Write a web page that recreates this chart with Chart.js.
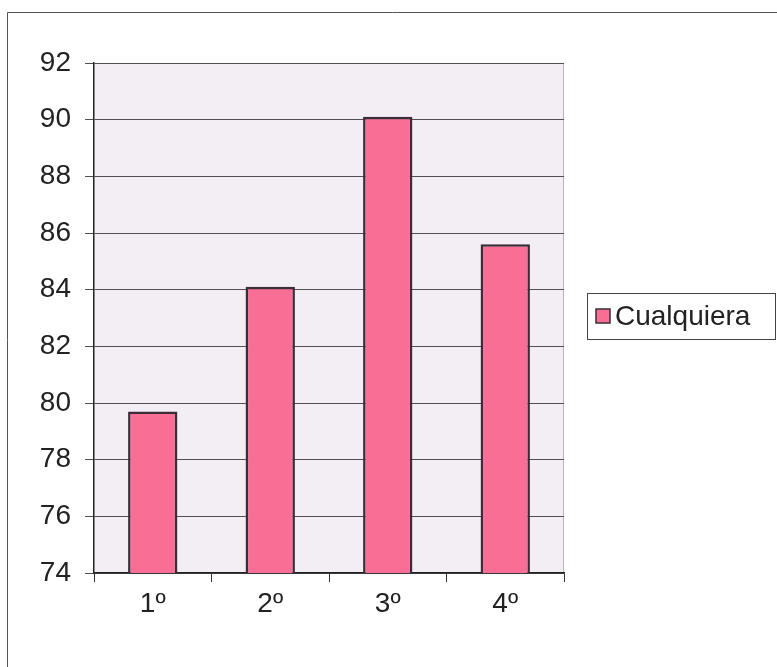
<!DOCTYPE html>
<html>
<head>
<meta charset="utf-8">
<script src="https://cdn.jsdelivr.net/npm/chart.js@4/dist/chart.umd.min.js"></script>
<style>
  html, body { margin: 0; padding: 0; background: #ffffff; }
  #wrap { width: 777px; height: 667px; position: relative; }
</style>
</head>
<body>
<div id="wrap"><canvas id="c" width="777" height="667"></canvas></div>
<script>
// Course levels and their values
const categories = ['1º', '2º', '3º', '4º'];
const seriesName = 'Cualquiera';
const seriesValues = [79.7, 84.1, 90.1, 85.6];
const yTicks = [74, 76, 78, 80, 82, 84, 86, 88, 90, 92];

const FONT = '"Liberation Sans", Arial, sans-serif';
const BAR_FILL = '#F86E95';
const BAR_EDGE = '#3b2c3a';

// Frame, plot background and legend box
const decor = {
  id: 'decor',
  beforeDraw(chart) {
    const { ctx, chartArea: a } = chart;
    ctx.save();
    ctx.fillStyle = '#F2EEF4';
    ctx.fillRect(a.left, a.top, a.right - a.left, a.bottom - a.top);
    // light outline on top and right of the plot
    ctx.strokeStyle = '#b9b4bc';
    ctx.lineWidth = 1;
    ctx.beginPath();
    ctx.moveTo(a.left, a.top + 0.5);
    ctx.lineTo(a.right - 0.5, a.top + 0.5);
    ctx.lineTo(a.right - 0.5, a.bottom);
    ctx.stroke();
    // outer frame
    ctx.strokeStyle = '#555555';
    ctx.beginPath();
    ctx.moveTo(7.5, 667);
    ctx.lineTo(7.5, 12.5);
    ctx.lineTo(777, 12.5);
    ctx.stroke();
    ctx.restore();
  },
  afterDraw(chart) {
    const { ctx } = chart;
    const ds = chart.data.datasets[0];
    ctx.save();
    ctx.strokeStyle = '#444444';
    ctx.lineWidth = 1;
    ctx.strokeRect(587.5, 293.5, 188, 46);
    ctx.fillStyle = ds.backgroundColor;
    ctx.fillRect(596, 309, 14, 14);
    ctx.strokeStyle = BAR_EDGE;
    ctx.lineWidth = 1.5;
    ctx.strokeRect(596, 309, 14, 14);
    ctx.fillStyle = '#222222';
    ctx.font = '28px ' + FONT;
    ctx.textBaseline = 'middle';
    ctx.textAlign = 'left';
    ctx.fillText(ds.label, 615, 317);
    ctx.restore();
  }
};

new Chart(document.getElementById('c'), {
  type: 'bar',
  data: {
    labels: categories,
    datasets: [{
      label: seriesName,
      data: seriesValues,
      backgroundColor: BAR_FILL,
      borderColor: BAR_EDGE,
      borderWidth: 2.5,
      borderSkipped: 'bottom',
      barPercentage: 0.42,
      categoryPercentage: 1.0
    }]
  },
  options: {
    responsive: false,
    animation: false,
    devicePixelRatio: 1,
    layout: { padding: { left: 0, top: 63, right: 213, bottom: 0 } },
    plugins: { legend: { display: false }, tooltip: { enabled: false } },
    scales: {
      x: {
        offset: true,
        grid: { offset: true, drawOnChartArea: false, drawTicks: true, tickLength: 9, color: '#333333', lineWidth: 1 },
        border: { display: true, color: '#222222', width: 1.5 },
        ticks: { color: '#222222', font: { family: FONT, size: 28 }, padding: 5, maxRotation: 0 },
        afterFit(scale) { scale.height = 94; }
      },
      y: {
        min: 74,
        max: 92,
        afterBuildTicks(scale) { scale.ticks = yTicks.map(v => ({ value: v })); },
        grid: { color: '#505050', lineWidth: 1, drawTicks: true, tickLength: 9 },
        border: { display: true, color: '#222222', width: 1.5 },
        ticks: { color: '#222222', font: { family: FONT, size: 28 }, padding: 14 },
        afterFit(scale) { scale.width = 94; }
      }
    }
  },
  plugins: [decor]
});
</script>
</body>
</html>
